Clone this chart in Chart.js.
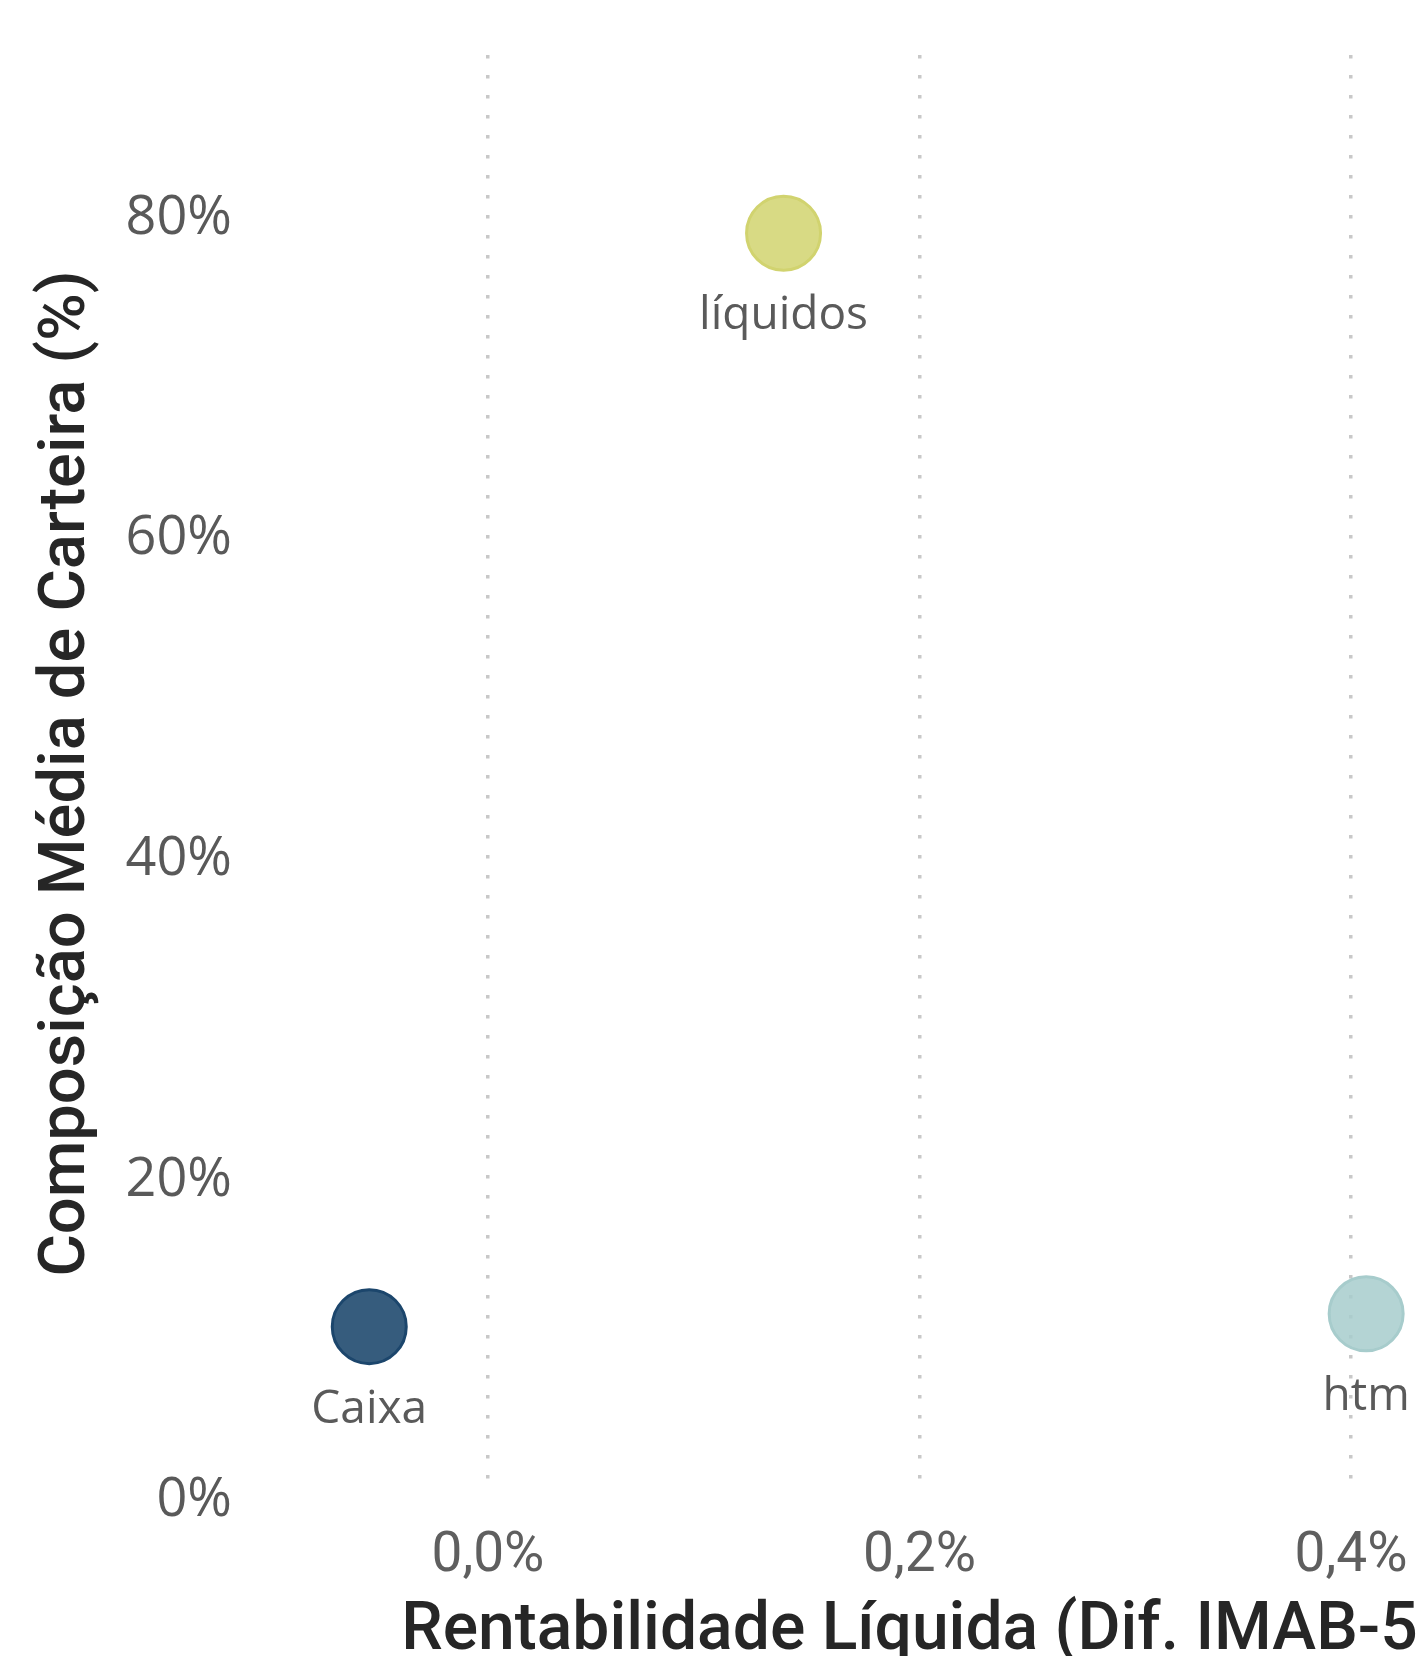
<!DOCTYPE html>
<html>
<head>
<meta charset="utf-8">
<script src="https://cdn.jsdelivr.net/npm/chart.js@4.4.1/dist/chart.umd.min.js"></script>
<style>
    html, body { margin: 0; padding: 0; overflow: hidden; background: #ffffff; }
    canvas { display: block; }
</style>
</head>
<body>
<canvas id="chart-scatter" width="1602" height="1700"></canvas>
<script>
// Data
const categories = ['Caixa', 'líquidos', 'htm'];
const rentabilidade = [-0.055, 0.137, 0.407];   // % (x)
const composicao = [10.5, 78.7, 11.3];           // % (y)
const xTicks = [0, 0.2, 0.4];
const yTicks = [0, 20, 40, 60, 80];

const pointFill = ['rgba(26,69,107,0.88)', 'rgba(209,211,111,0.85)', 'rgba(167,204,204,0.85)'];
const pointEdge = ['rgb(28,70,108)', 'rgb(209,211,111)', 'rgb(167,204,204)'];

// Category names under each bubble
const pointLabels = {
    id: 'pointLabels',
    afterDatasetsDraw(chart) {
        const ctx = chart.ctx;
        const meta = chart.getDatasetMeta(0);
        ctx.save();
        ctx.font = '46px "Open Sans"';
        ctx.fillStyle = '#5a5a5a';
        ctx.textAlign = 'center';
        ctx.textBaseline = 'alphabetic';
        meta.data.forEach((el, i) => {
            ctx.fillText(categories[i], el.x, el.y + 96);
        });
        ctx.restore();
    },
};

// Fixed axis sizes, no extra label padding at the chart edges
function fixSize(prop, size) {
    return (scale) => {
        scale[prop] = size;
        scale.paddingLeft = 0;
        scale.paddingRight = 0;
        scale.paddingTop = 0;
        scale.paddingBottom = 0;
    };
}

new Chart(document.getElementById('chart-scatter'), {
    type: 'scatter',
    data: {
        datasets: [{
            label: 'Classes',
            data: categories.map((c, i) => ({ x: rentabilidade[i], y: composicao[i] })),
            backgroundColor: pointFill,
            borderColor: pointEdge,
            borderWidth: 3,
            pointRadius: 37,
            pointHoverRadius: 37,
        }],
    },
    options: {
        responsive: false,
        devicePixelRatio: 1,
        animation: false,
        layout: { autoPadding: false, padding: { top: 52, right: 0, bottom: 0, left: 0 } },
        plugins: {
            legend: { display: false },
            tooltip: { enabled: false },
        },
        scales: {
            x: {
                type: 'linear',
                min: -0.1149,
                max: 0.5163,
                afterBuildTicks: (scale) => { scale.ticks = xTicks.map(v => ({ value: v })); },
                afterFit: fixSize('height', 205),
                grid: {
                    color: '#c8c8c8',
                    lineWidth: 3.5,
                    drawTicks: false,
                },
                border: { display: false, dash: [3.5, 16.5], dashOffset: -3 },
                ticks: {
                    color: '#5f5f5f',
                    padding: 29,
                    font: { family: 'Roboto', size: 55 },
                    callback: (v) => v.toFixed(1).replace('.', ',') + '%',
                },
                title: {
                    display: true,
                    text: 'Rentabilidade Líquida (Dif. IMAB-5)',
                    color: '#262626',
                    font: { family: 'Roboto', size: 66, weight: '500' },
                    padding: { top: 0, bottom: 28 },
                },
            },
            y: {
                type: 'linear',
                min: 0,
                max: 90,
                afterBuildTicks: (scale) => { scale.ticks = yTicks.map(v => ({ value: v })); },
                afterFit: fixSize('width', 240),
                grid: { display: false, drawTicks: false },
                border: { display: false },
                ticks: {
                    color: '#595959',
                    padding: 8,
                    labelOffset: 6,
                    font: { family: 'Open Sans', size: 54 },
                    callback: (v) => v + '%',
                },
                title: {
                    display: true,
                    text: 'Composição Média de Carteira (%)',
                    color: '#262626',
                    font: { family: 'Roboto', size: 65, weight: '500' },
                    padding: { top: 29, bottom: 0 },
                },
            },
        },
    },
    plugins: [pointLabels],
});
</script>
</body>
</html>
